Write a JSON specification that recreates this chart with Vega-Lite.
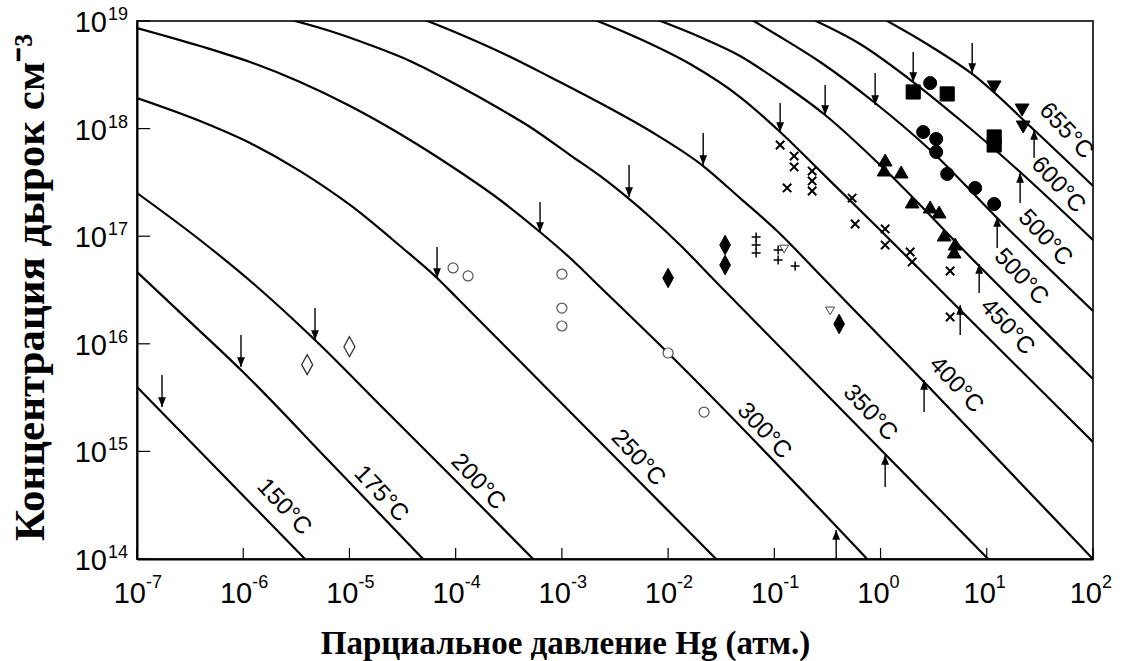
{
  "$schema": "https://vega.github.io/schema/vega-lite/v6.json",
  "width": 956,
  "height": 538,
  "autosize": {"type": "none"},
  "padding": {"left": 137, "top": 21, "right": 38, "bottom": 102},
  "background": "white",
  "config": {
    "view": {"stroke": "#333", "strokeWidth": 2},
    "axis": {"labels": false, "ticks": false, "grid": false, "domainColor": "#000", "domainWidth": 2}
  },
  "datasets": {
    "curves": [
      {"T":"150","P":1e-7,"N":3.97e15},{"T":"150","P":6.18e-7,"N":6.30e14},{"T":"150","P":3.82e-6,"N":1e14},
      {"T":"175","P":1e-7,"N":4.65e16},{"T":"175","P":3.16e-7,"N":1.6e16},{"T":"175","P":9.53e-7,"N":5.71e15},{"T":"175","P":6.56e-6,"N":7.97e14},{"T":"175","P":4.93e-5,"N":1e14},
      {"T":"200","P":1e-7,"N":2.52e17},{"T":"200","P":3.92e-7,"N":9.22e16},{"T":"200","P":1.29e-6,"N":3.52e16},{"T":"200","P":4.74e-6,"N":1.085e16},{"T":"200","P":2.21e-5,"N":2.37e15},{"T":"200","P":1.03e-4,"N":5.20e14},{"T":"200","P":5.36e-4,"N":1e14},
      {"T":"250","P":1e-7,"N":1.925e18},{"T":"250","P":3.92e-7,"N":1.177e18},{"T":"250","P":1.159e-6,"N":7.35e17},{"T":"250","P":3.43e-6,"N":4.03e17},{"T":"250","P":1.013e-5,"N":1.95e17},{"T":"250","P":3.0e-5,"N":8.11e16},{"T":"250","P":6.68e-5,"N":4.09e16},{"T":"250","P":1.031e-4,"N":2.665e16},{"T":"250","P":1.727e-3,"N":1.616e15},{"T":"250","P":2.83e-2,"N":1e14},
      {"T":"300","P":1e-7,"N":8.61e18},{"T":"300","P":3.92e-7,"N":5.86e18},{"T":"300","P":1.159e-6,"N":4.16e18},{"T":"300","P":3.43e-6,"N":2.71e18},{"T":"300","P":1.013e-5,"N":1.622e18},{"T":"300","P":3.0e-5,"N":8.91e17},{"T":"300","P":1.031e-4,"N":4.12e17},{"T":"300","P":2.62e-4,"N":2.17e17},{"T":"300","P":6.23e-4,"N":1.094e17},{"T":"300","P":1.195e-3,"N":6.27e16},{"T":"300","P":2.29e-3,"N":3.37e16},{"T":"300","P":1.044e-2,"N":7.87e15},{"T":"300","P":0.748,"N":1e14},
      {"T":"350","P":2.22e-6,"N":1.09e19},{"T":"350","P":6.57e-6,"N":8.07e18},{"T":"350","P":1.563e-5,"N":5.98e18},{"T":"350","P":3.72e-5,"N":4.25e18},{"T":"350","P":1.031e-4,"N":2.54e18},{"T":"350","P":2.62e-4,"N":1.521e18},{"T":"350","P":5.02e-4,"N":1.035e18},{"T":"350","P":1.195e-3,"N":5.68e17},{"T":"350","P":2.29e-3,"N":3.63e17},{"T":"350","P":4.29e-3,"N":2.22e17},{"T":"350","P":6.77e-3,"N":1.508e17},{"T":"350","P":1.297e-2,"N":8.28e16},{"T":"350","P":2.83e-2,"N":3.75e16},{"T":"350","P":10.3,"N":1e14},
      {"T":"400","P":4.62e-5,"N":1.066e19},{"T":"400","P":1.031e-4,"N":7.74e18},{"T":"400","P":2.62e-4,"N":5.15e18},{"T":"400","P":7.74e-4,"N":3.02e18},{"T":"400","P":2.29e-3,"N":1.729e18},{"T":"400","P":6.77e-3,"N":9.50e17},{"T":"400","P":2.14e-2,"N":4.49e17},{"T":"400","P":4.76e-2,"N":2.26e17},{"T":"400","P":0.1063,"N":1.117e17},{"T":"400","P":0.270,"N":4.36e16},{"T":"400","P":2.465,"N":4.61e15},{"T":"400","P":100,"N":1e14},
      {"T":"450","P":1.843e-3,"N":1.066e19},{"T":"450","P":5.45e-3,"N":6.80e18},{"T":"450","P":1.611e-2,"N":3.98e18},{"T":"450","P":4.76e-2,"N":1.966e18},{"T":"450","P":0.111,"N":9.50e17},{"T":"450","P":0.270,"N":4.03e17},{"T":"450","P":0.991,"N":1.142e17},{"T":"450","P":5.62,"N":2.06e16},{"T":"450","P":100,"N":1.223e15},
      {"T":"500a","P":6.77e-3,"N":1.089e19},{"T":"500a","P":2.00e-2,"N":7.10e18},{"T":"500a","P":4.76e-2,"N":4.73e18},{"T":"500a","P":0.1063,"N":2.83e18},{"T":"500a","P":0.3008,"N":1.338e18},{"T":"500a","P":0.991,"N":4.59e17},{"T":"500a","P":8.48,"N":5.28e16},{"T":"500a","P":100,"N":4.71e15},
      {"T":"500b","P":5.31e-2,"N":1.113e19},{"T":"500b","P":0.1063,"N":7.41e18},{"T":"500b","P":0.270,"N":4.16e18},{"T":"500b","P":0.889,"N":1.729e18},{"T":"500b","P":2.93,"N":6.33e17},{"T":"500b","P":12.53,"N":1.476e17},{"T":"500b","P":100,"N":2.02e16},
      {"T":"600","P":0.195,"N":1.113e19},{"T":"600","P":0.642,"N":6.11e18},{"T":"600","P":2.03,"N":2.71e18},{"T":"600","P":5.62,"N":1.202e18},{"T":"600","P":20.6,"N":3.95e17},{"T":"600","P":100,"N":9.22e16},
      {"T":"655","P":0.991,"N":1.089e19},{"T":"655","P":2.93,"N":5.86e18},{"T":"655","P":7.29,"N":3.22e18},{"T":"655","P":27.9,"N":9.70e17},{"T":"655","P":100,"N":2.93e17}
    ],
    "points": [
      {"type":"od","P":4e-6,"N":6.4e15},{"type":"od","P":1e-5,"N":9.4e15},
      {"type":"oc","P":9.45e-5,"N":5.07e16},{"type":"oc","P":1.308e-4,"N":4.27e16},{"type":"oc","P":1.0e-3,"N":4.45e16},{"type":"oc","P":1.0e-3,"N":2.15e16},{"type":"oc","P":1.0e-3,"N":1.464e16},{"type":"oc","P":1.0e-2,"N":8.21e15},{"type":"oc","P":2.18e-2,"N":2.32e15},
      {"type":"fd","P":1.0e-2,"N":4.09e16},{"type":"fd","P":3.44e-2,"N":8.28e16},{"type":"fd","P":3.44e-2,"N":5.40e16},{"type":"fd","P":0.4075,"N":1.528e16},
      {"type":"otd","P":0.1237,"N":7.60e16},{"type":"otd","P":0.335,"N":2.02e16},
      {"type":"pl","P":6.74e-2,"N":9.83e16},{"type":"pl","P":6.74e-2,"N":8.28e16},{"type":"pl","P":6.74e-2,"N":6.98e16},{"type":"pl","P":0.1086,"N":7.44e16},{"type":"pl","P":0.1086,"N":6.01e16},{"type":"pl","P":0.157,"N":5.28e16},
      {"type":"x","P":0.1134,"N":7.04e17},{"type":"x","P":0.1536,"N":5.56e17},{"type":"x","P":0.1536,"N":4.40e17},{"type":"x","P":0.132,"N":2.81e17},{"type":"x","P":0.227,"N":4.03e17},{"type":"x","P":0.227,"N":3.26e17},{"type":"x","P":0.227,"N":2.63e17},{"type":"x","P":0.540,"N":2.26e17},{"type":"x","P":0.5765,"N":1.298e17},{"type":"x","P":1.105,"N":1.167e17},{"type":"x","P":1.105,"N":8.28e16},{"type":"x","P":1.90,"N":7.13e16},{"type":"x","P":1.984,"N":5.76e16},{"type":"x","P":4.52,"N":4.75e16},{"type":"x","P":4.52,"N":1.774e16},
      {"type":"ftu","P":1.105,"N":5.11e17},{"type":"ftu","P":1.081,"N":4.12e17},{"type":"ftu","P":1.563,"N":3.95e17},{"type":"ftu","P":1.984,"N":2.08e17},{"type":"ftu","P":2.93,"N":1.868e17},{"type":"ftu","P":3.56,"N":1.678e17},{"type":"ftu","P":3.97,"N":1.026e17},{"type":"ftu","P":5.04,"N":8.46e16},{"type":"ftu","P":4.93,"N":7.13e16},
      {"type":"fc","P":2.93,"N":2.65e18},{"type":"fc","P":2.52,"N":9.30e17},{"type":"fc","P":3.34,"N":8.01e17},{"type":"fc","P":3.34,"N":6.06e17},{"type":"fc","P":4.24,"N":3.79e17},{"type":"fc","P":7.78,"N":2.81e17},{"type":"fc","P":11.74,"N":1.992e17},
      {"type":"fs","P":2.03,"N":2.19e18},{"type":"fs","P":4.24,"N":2.10e18},{"type":"fs","P":11.74,"N":8.36e17},{"type":"fs","P":11.74,"N":7.04e17},
      {"type":"ftd","P":11.74,"N":2.44e18},{"type":"ftd","P":21.5,"N":1.489e18},{"type":"ftd","P":22.0,"N":1.035e18}
    ],
    "arrows": [
      {"P":1.72e-7,"tip":2.59e15,"tail":5.13e15,"dir":"down"},
      {"P":9.53e-7,"tip":6.09e15,"tail":1.207e16,"dir":"down"},
      {"P":4.74e-6,"tip":1.085e16,"tail":2.15e16,"dir":"down"},
      {"P":6.68e-5,"tip":4.09e16,"tail":7.94e16,"dir":"down"},
      {"P":6.23e-4,"tip":1.094e17,"tail":2.08e17,"dir":"down"},
      {"P":4.29e-3,"tip":2.31e17,"tail":4.59e17,"dir":"down"},
      {"P":2.14e-2,"tip":4.59e17,"tail":9.10e17,"dir":"down"},
      {"P":0.1134,"tip":9.30e17,"tail":1.729e18,"dir":"down"},
      {"P":0.3008,"tip":1.338e18,"tail":2.54e18,"dir":"down"},
      {"P":0.889,"tip":1.657e18,"tail":3.29e18,"dir":"down"},
      {"P":2.03,"tip":2.71e18,"tail":5.15e18,"dir":"down"},
      {"P":7.29,"tip":3.29e18,"tail":6.24e18,"dir":"down"},
      {"P":27.9,"tip":9.70e17,"tail":5.33e17,"dir":"up"},
      {"P":20.6,"tip":3.87e17,"tail":2.04e17,"dir":"up"},
      {"P":12.53,"tip":1.508e17,"tail":7.77e16,"dir":"up"},
      {"P":8.48,"tip":5.52e16,"tail":2.97e16,"dir":"up"},
      {"P":5.62,"tip":2.29e16,"tail":1.207e16,"dir":"up"},
      {"P":2.57,"tip":4.61e15,"tail":2.32e15,"dir":"up"},
      {"P":1.105,"tip":9.26e14,"tail":4.67e14,"dir":"up"},
      {"P":0.382,"tip":1.86e14,"tail":1e14,"dir":"up"}
    ],
    "labels": [
      {"P":2.42e-6,"N":3.04e14,"t":"150°C"},
      {"P":1.984e-5,"N":4.02e14,"t":"175°C"},
      {"P":1.625e-4,"N":5.20e14,"t":"200°C"},
      {"P":5.22e-3,"N":8.68e14,"t":"250°C"},
      {"P":8.02e-2,"N":1.547e15,"t":"300°C"},
      {"P":0.798,"N":2.28e15,"t":"350°C"},
      {"P":5.15,"N":4.14e15,"t":"400°C"},
      {"P":15.6,"N":1.432e16,"t":"450°C"},
      {"P":21.1,"N":4.18e16,"t":"500°C"},
      {"P":35.5,"N":9.62e16,"t":"500°C"},
      {"P":47.0,"N":2.99e17,"t":"600°C"},
      {"P":55.9,"N":9.50e17,"t":"655°C"}
    ],
    "xt": [
      {"v":1e-7,"e":"-7"},{"v":1e-6,"e":"-6"},{"v":1e-5,"e":"-5"},{"v":1e-4,"e":"-4"},{"v":1e-3,"e":"-3"},
      {"v":1e-2,"e":"-2"},{"v":1e-1,"e":"-1"},{"v":1,"e":"0"},{"v":10,"e":"1"},{"v":100,"e":"2"}
    ],
    "yt": [
      {"v":1e14,"e":"14"},{"v":1e15,"e":"15"},{"v":1e16,"e":"16"},{"v":1e17,"e":"17"},{"v":1e18,"e":"18"},{"v":1e19,"e":"19"}
    ]
  },
  "resolve": {"scale": {"shape": "independent", "fill": "independent", "stroke": "independent", "size": "independent", "strokeWidth": "independent"}},
  "layer": [
    {
      "data": {"name": "curves"},
      "mark": {"type": "line", "clip": true, "color": "#000", "strokeWidth": 2.2, "interpolate": "monotone"},
      "encoding": {
        "x": {"field": "P", "type": "quantitative", "scale": {"type": "log", "domain": [1e-7, 100], "nice": false},
          "axis": {"labels": false, "ticks": false, "grid": false, "domainColor": "#000", "domainWidth": 2,
            "title": "Парциальное давление Hg (атм.)", "titleFont": "Liberation Serif", "titleFontWeight": "bold",
            "titleFontSize": 33, "titleColor": "#000", "titleX": 428, "titleY": 94, "titleAlign": "center", "titleBaseline": "alphabetic"}},
        "y": {"field": "N", "type": "quantitative", "scale": {"type": "log", "domain": [1e14, 1e19], "nice": false},
          "axis": {"labels": false, "ticks": false, "grid": false, "domainColor": "#000", "domainWidth": 2,
            "title": "Концентрация дырок см⁻³", "titleFont": "Liberation Serif", "titleFontWeight": "bold",
            "titleFontSize": 43, "titleColor": "#000", "titleAngle": 270, "titleX": -107, "titleY": 266, "titleAlign": "center", "titleBaseline": "middle"}},
        "detail": {"field": "T", "type": "nominal"}
      }
    },
    {
      "data": {"name": "xt"},
      "mark": {"type": "rule", "color": "#000", "strokeWidth": 1.2},
      "encoding": {
        "x": {"field": "v", "type": "quantitative", "scale": {"type": "log", "domain": [1e-7, 100], "nice": false}},
        "y": {"datum": 1e14, "type": "quantitative", "scale": {"type": "log", "domain": [1e14, 1e19], "nice": false}},
        "y2": {"datum": 1.265e14}
      }
    },
    {
      "data": {"name": "yt"},
      "mark": {"type": "rule", "color": "#000", "strokeWidth": 1.2},
      "encoding": {
        "y": {"field": "v", "type": "quantitative", "scale": {"type": "log", "domain": [1e14, 1e19], "nice": false}},
        "x": {"datum": 1e-7, "type": "quantitative", "scale": {"type": "log", "domain": [1e-7, 100], "nice": false}},
        "x2": {"datum": 1.33e-7}
      }
    },
    {
      "data": {"name": "arrows"},
      "mark": {"type": "rule", "color": "#000", "strokeWidth": 1.4},
      "encoding": {
        "x": {"field": "P", "type": "quantitative", "scale": {"type": "log", "domain": [1e-7, 100], "nice": false}},
        "y": {"field": "tip", "type": "quantitative", "scale": {"type": "log", "domain": [1e14, 1e19], "nice": false}},
        "y2": {"field": "tail"}
      }
    },
    {
      "data": {"name": "arrows"},
      "transform": [{"filter": "datum.dir === 'down'"}],
      "mark": {"type": "point", "filled": true, "color": "#000", "opacity": 1, "size": 380, "shape": "M0,0L-0.4,-1L0.4,-1Z"},
      "encoding": {
        "x": {"field": "P", "type": "quantitative", "scale": {"type": "log", "domain": [1e-7, 100], "nice": false}},
        "y": {"field": "tip", "type": "quantitative", "scale": {"type": "log", "domain": [1e14, 1e19], "nice": false}}
      }
    },
    {
      "data": {"name": "arrows"},
      "transform": [{"filter": "datum.dir === 'up'"}],
      "mark": {"type": "point", "filled": true, "color": "#000", "opacity": 1, "size": 380, "shape": "M0,0L-0.4,1L0.4,1Z"},
      "encoding": {
        "x": {"field": "P", "type": "quantitative", "scale": {"type": "log", "domain": [1e-7, 100], "nice": false}},
        "y": {"field": "tip", "type": "quantitative", "scale": {"type": "log", "domain": [1e14, 1e19], "nice": false}}
      }
    },
    {
      "data": {"name": "points"},
      "mark": {"type": "point", "filled": true, "opacity": 1},
      "encoding": {
        "x": {"field": "P", "type": "quantitative", "scale": {"type": "log", "domain": [1e-7, 100], "nice": false}},
        "y": {"field": "N", "type": "quantitative", "scale": {"type": "log", "domain": [1e14, 1e19], "nice": false}},
        "shape": {"field": "type", "type": "nominal", "legend": null,
          "scale": {"domain": ["od","oc","fd","otd","pl","x","ftu","fc","fs","ftd"],
            "range": ["M0,-1L0.55,0L0,1L-0.55,0Z","circle","M0,-1L0.55,0L0,1L-0.55,0Z","triangle-down","M-1,0L1,0M0,-1L0,1","M-1,-1L1,1M-1,1L1,-1","triangle-up","circle","square","triangle-down"]}},
        "fill": {"field": "type", "type": "nominal", "legend": null,
          "scale": {"domain": ["od","oc","fd","otd","pl","x","ftu","fc","fs","ftd"],
            "range": ["#ffffff","#ffffff","#000000","#ffffff","#000000","#000000","#000000","#000000","#000000","#000000"]}},
        "stroke": {"field": "type", "type": "nominal", "legend": null,
          "scale": {"domain": ["od","oc","fd","otd","pl","x","ftu","fc","fs","ftd"],
            "range": ["#333333","#555555","#000000","#444444","#000000","#000000","#000000","#000000","#000000","#000000"]}},
        "size": {"field": "type", "type": "nominal", "legend": null,
          "scale": {"type": "ordinal", "domain": ["od","oc","fd","otd","pl","x","ftu","fc","fs","ftd"],
            "range": [400, 100, 380, 80, 80, 70, 190, 170, 200, 190]}},
        "strokeWidth": {"field": "type", "type": "nominal", "legend": null,
          "scale": {"type": "ordinal", "domain": ["od","oc","fd","otd","pl","x","ftu","fc","fs","ftd"],
            "range": [1.3, 1.2, 1, 1, 1.5, 2, 1, 1, 1, 1]}}
      }
    },
    {
      "data": {"name": "labels"},
      "mark": {"type": "text", "font": "Liberation Sans", "fontSize": 24, "angle": 47, "align": "center", "baseline": "middle", "color": "#000"},
      "encoding": {
        "x": {"field": "P", "type": "quantitative", "scale": {"type": "log", "domain": [1e-7, 100], "nice": false}},
        "y": {"field": "N", "type": "quantitative", "scale": {"type": "log", "domain": [1e14, 1e19], "nice": false}},
        "text": {"field": "t"}
      }
    },
    {
      "data": {"name": "xt"},
      "mark": {"type": "text", "font": "Liberation Sans", "fontSize": 29, "align": "right", "baseline": "alphabetic", "dx": 9, "dy": 44, "color": "#000"},
      "encoding": {
        "x": {"field": "v", "type": "quantitative", "scale": {"type": "log", "domain": [1e-7, 100], "nice": false}},
        "y": {"datum": 1e14, "type": "quantitative", "scale": {"type": "log", "domain": [1e14, 1e19], "nice": false}},
        "text": {"value": "10"}
      }
    },
    {
      "data": {"name": "xt"},
      "mark": {"type": "text", "font": "Liberation Sans", "fontSize": 18, "align": "left", "baseline": "alphabetic", "dx": 9, "dy": 29, "color": "#000"},
      "encoding": {
        "x": {"field": "v", "type": "quantitative", "scale": {"type": "log", "domain": [1e-7, 100], "nice": false}},
        "y": {"datum": 1e14, "type": "quantitative", "scale": {"type": "log", "domain": [1e14, 1e19], "nice": false}},
        "text": {"field": "e"}
      }
    },
    {
      "data": {"name": "yt"},
      "mark": {"type": "text", "font": "Liberation Sans", "fontSize": 29, "align": "right", "baseline": "alphabetic", "dx": -30, "dy": 11, "color": "#000"},
      "encoding": {
        "y": {"field": "v", "type": "quantitative", "scale": {"type": "log", "domain": [1e14, 1e19], "nice": false}},
        "x": {"datum": 1e-7, "type": "quantitative", "scale": {"type": "log", "domain": [1e-7, 100], "nice": false}},
        "text": {"value": "10"}
      }
    },
    {
      "data": {"name": "yt"},
      "mark": {"type": "text", "font": "Liberation Sans", "fontSize": 18, "align": "right", "baseline": "alphabetic", "dx": -9, "dy": -1, "color": "#000"},
      "encoding": {
        "y": {"field": "v", "type": "quantitative", "scale": {"type": "log", "domain": [1e14, 1e19], "nice": false}},
        "x": {"datum": 1e-7, "type": "quantitative", "scale": {"type": "log", "domain": [1e-7, 100], "nice": false}},
        "text": {"field": "e"}
      }
    }
  ]
}
